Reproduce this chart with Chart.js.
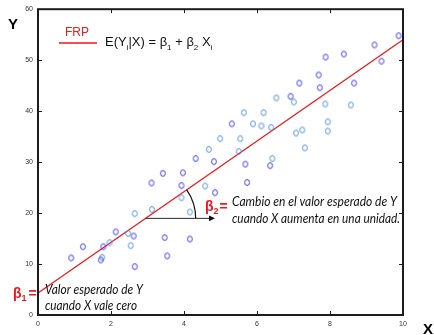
<!DOCTYPE html>
<html>
<head>
<meta charset="utf-8">
<script src="https://cdn.jsdelivr.net/npm/chart.js@4.4.0/dist/chart.umd.min.js"></script>
<style>
  html, body { margin: 0; padding: 0; background: #ffffff; }
  #wrap { width: 434px; height: 335px; position: relative; }
</style>
</head>
<body>
<div id="wrap"><canvas id="c" width="434" height="335"></canvas></div>
<script>
// Observed sample (X, Y), split in two shades of blue
const darkX = [0.91, 1.23, 1.72, 1.79, 2.13, 2.62, 2.65, 3.11, 3.42, 3.47, 3.54, 3.97, 3.93, 4.16, 4.32, 4.85, 4.82, 5.31, 5.68, 5.73, 6.36, 6.92, 7.16, 7.72, 7.69, 7.88, 8.38, 8.66, 9.22, 9.41, 9.88];
const darkY = [11.2, 13.4, 10.8, 13.4, 16.3, 15.5, 9.5, 25.9, 27.8, 15.2, 11.6, 27.9, 25.4, 14.9, 30.7, 24.0, 30.1, 37.5, 29.6, 26.0, 29.3, 42.9, 45.5, 44.6, 47.1, 50.6, 51.2, 45.5, 53.0, 49.8, 54.8];
const lightX = [1.76, 1.96, 2.47, 2.54, 2.65, 3.12, 3.93, 4.16, 4.58, 4.68, 4.99, 5.54, 5.50, 5.89, 6.12, 6.39, 5.64, 6.18, 6.42, 6.53, 7.01, 7.07, 7.24, 7.31, 7.87, 7.94, 7.94, 8.57];
const lightY = [11.3, 14.2, 16.0, 13.6, 19.9, 20.7, 23.0, 20.2, 25.3, 32.5, 34.6, 34.6, 32.1, 37.5, 37.1, 36.8, 39.7, 39.7, 30.7, 42.6, 41.8, 35.7, 36.3, 32.8, 41.4, 37.9, 36.1, 41.2];

// Population regression function E(Y|X) = b1 + b2 X, given by its two end points
const frpX = [0, 10];
const frpY = [4.3, 54.0];

// Horizontal run used to illustrate the slope (start and end X)
const slopeRunX = [2.95, 4.85];

// Axis tick labels
const xTicks = [0, 2, 4, 6, 8, 10];
const yTicks = [0, 10, 20, 30, 40, 50, 60];

const DARK_BLUE = '#3d3df4';
const LIGHT_BLUE = '#4e92e2';
const RED = '#f01818';

function toPoints(xs, ys) { return xs.map((x, i) => ({ x: x, y: ys[i] })); }

// Small "o"-shaped marker
function ringMarker(color) {
  const c = document.createElement('canvas');
  c.width = 8; c.height = 9;
  const g = c.getContext('2d');
  g.strokeStyle = color;
  g.lineWidth = 1.0;
  g.beginPath();
  g.ellipse(4, 4.5, 2.4, 2.9, 0, 0, Math.PI * 2);
  g.stroke();
  return c;
}

const frpSlope = (frpY[1] - frpY[0]) / (frpX[1] - frpX[0]);
function frpAt(x) { return frpY[0] + frpSlope * (x - frpX[0]); }

// Draw a run of text pieces (with optional subscripts) starting at x
function drawRuns(ctx, runs, x, y, color) {
  let cx = x;
  ctx.fillStyle = color;
  ctx.textBaseline = 'alphabetic';
  ctx.textAlign = 'left';
  runs.forEach(r => {
    ctx.font = r.font;
    ctx.fillText(r.t, cx, y + (r.dy || 0));
    cx += ctx.measureText(r.t).width + (r.gap || 0);
  });
  return cx;
}

const decorations = {
  id: 'decorations',
  beforeDraw(chart) {
    const ctx = chart.ctx;
    ctx.save();
    ctx.fillStyle = '#ffffff';
    ctx.fillRect(0, 0, chart.width, chart.height);
    ctx.restore();
  },
  afterDatasetsDraw(chart) {
    const ctx = chart.ctx;
    const xs = chart.scales.x, ys = chart.scales.y;
    const px0 = xs.getPixelForValue(slopeRunX[0]);
    const px1 = xs.getPixelForValue(slopeRunX[1]);
    const py0 = ys.getPixelForValue(frpAt(slopeRunX[0]));
    const py1 = ys.getPixelForValue(frpAt(slopeRunX[1]));
    ctx.save();
    // horizontal run with arrow head
    ctx.strokeStyle = '#2a2a2a';
    ctx.lineWidth = 1;
    ctx.beginPath();
    ctx.moveTo(px0, py0);
    ctx.lineTo(px1 - 2, py0);
    ctx.stroke();
    ctx.fillStyle = '#111';
    ctx.beginPath();
    ctx.moveTo(px1, py0);
    ctx.lineTo(px1 - 6, py0 - 2.8);
    ctx.lineTo(px1 - 6, py0 + 2.8);
    ctx.closePath();
    ctx.fill();
    // angle arc between the run and the regression line
    const ang = Math.atan2(py1 - py0, px1 - px0);
    ctx.strokeStyle = '#111';
    ctx.lineWidth = 1.2;
    ctx.beginPath();
    ctx.arc(px0, py0, 50, ang, 0);
    ctx.stroke();
    ctx.restore();
  },
  afterDraw(chart) {
    const ctx = chart.ctx;
    const { left, right, top, bottom } = chart.chartArea;
    const xs = chart.scales.x, ys = chart.scales.y;
    ctx.save();
    // frame
    ctx.strokeStyle = '#1c1c1c';
    ctx.lineWidth = 2;
    ctx.strokeRect(left, top, right - left, bottom - top);
    // inner tick marks
    ctx.lineWidth = 1;
    ctx.beginPath();
    xTicks.slice(1, -1).forEach(v => {
      const p = Math.round(xs.getPixelForValue(v)) + 0.5;
      ctx.moveTo(p, bottom); ctx.lineTo(p, bottom - 4);
      ctx.moveTo(p, top); ctx.lineTo(p, top + 4);
    });
    yTicks.slice(1, -1).forEach(v => {
      const p = Math.round(ys.getPixelForValue(v)) + 0.5;
      ctx.moveTo(left, p); ctx.lineTo(left + 4, p);
      ctx.moveTo(right, p); ctx.lineTo(right - 4, p);
    });
    ctx.stroke();

    // axis titles
    ctx.fillStyle = '#000';
    ctx.font = 'bold 15px "Liberation Sans", Arial, sans-serif';
    ctx.textAlign = 'center';
    ctx.textBaseline = 'alphabetic';
    ctx.fillText('Y', 13, 29);
    ctx.fillText('X', 428, 334);

    // legend
    ctx.strokeStyle = RED;
    ctx.lineWidth = 1.3;
    ctx.beginPath();
    ctx.moveTo(59, 43); ctx.lineTo(97, 43);
    ctx.stroke();
    ctx.fillStyle = RED;
    ctx.font = '12px "Liberation Sans", Arial, sans-serif';
    ctx.textAlign = 'left';
    ctx.fillText('FRP', 65, 36);

    const F = '13px "Liberation Sans", Arial, sans-serif';
    const S = '8px "Liberation Sans", Arial, sans-serif';
    drawRuns(ctx, [
      { t: 'E(Y', font: F }, { t: 'i', font: S, dy: 3.5 },
      { t: '|X) = \u03B2', font: F }, { t: '1', font: S, dy: 3.5 },
      { t: ' + \u03B2', font: F }, { t: '2', font: S, dy: 3.5 },
      { t: ' X', font: F }, { t: 'i', font: S, dy: 3.5 }
    ], 105, 46, '#111');

    // slope label
    const BF = 'bold 14px "Liberation Sans", Arial, sans-serif';
    const BS = 'bold 9px "Liberation Sans", Arial, sans-serif';
    drawRuns(ctx, [
      { t: '\u03B2', font: BF }, { t: '2', font: BS, dy: 3, gap: 1 }, { t: '=', font: BF }
    ], 205, 211, RED);
    // intercept label
    drawRuns(ctx, [
      { t: '\u03B2', font: BF }, { t: '1', font: BS, dy: 3, gap: 2 }, { t: '=', font: BF }
    ], 13, 298, RED);

    // explanatory italic notes
    ctx.fillStyle = '#111';
    ctx.font = 'italic 13px Lato, "Open Sans", sans-serif';
    ctx.textBaseline = 'middle';
    ctx.textAlign = 'left';
    ctx.fillText('Cambio en el valor esperado de Y', 232, 202, 165);
    ctx.fillText('cuando X aumenta en una unidad.', 232, 218.5, 168);
    ctx.fillText('Valor esperado de Y', 45, 289.5, 98);
    ctx.fillText('cuando X vale cero', 45, 306, 92);
    ctx.restore();
  }
};

new Chart(document.getElementById('c'), {
  type: 'scatter',
  data: {
    datasets: [
      {
        label: 'FRP',
        data: toPoints(frpX, frpY),
        showLine: true,
        borderColor: RED,
        borderWidth: 1.3,
        pointRadius: 0,
        pointHoverRadius: 0,
        order: 3
      },
      {
        label: 'obs1',
        data: toPoints(darkX, darkY),
        pointStyle: ringMarker(DARK_BLUE),
        pointRadius: 3,
        order: 1
      },
      {
        label: 'obs2',
        data: toPoints(lightX, lightY),
        pointStyle: ringMarker(LIGHT_BLUE),
        pointRadius: 3,
        order: 2
      }
    ]
  },
  options: {
    responsive: false,
    animation: false,
    devicePixelRatio: 1,
    layout: { padding: { left: 0, right: 31, top: 9, bottom: 0 } },
    plugins: { legend: { display: false }, tooltip: { enabled: false } },
    events: [],
    scales: {
      x: {
        type: 'linear',
        min: 0, max: 10,
        afterBuildTicks: s => { s.ticks = xTicks.map(v => ({ value: v })); },
        afterFit: s => { s.height = 20; },
        grid: { display: false, drawTicks: false },
        border: { display: false },
        ticks: {
          color: '#333',
          font: { size: 7, family: '"Liberation Sans", Arial, sans-serif' },
          padding: 5,
          maxRotation: 0,
          callback: v => String(v)
        }
      },
      y: {
        type: 'linear',
        min: 0, max: 60,
        afterBuildTicks: s => { s.ticks = yTicks.map(v => ({ value: v })); },
        afterFit: s => { s.width = 38; },
        grid: { display: false, drawTicks: false },
        border: { display: false },
        ticks: {
          color: '#333',
          font: { size: 7, family: '"Liberation Sans", Arial, sans-serif' },
          padding: 5,
          callback: v => String(v)
        }
      }
    }
  },
  plugins: [decorations]
});
</script>
</body>
</html>
